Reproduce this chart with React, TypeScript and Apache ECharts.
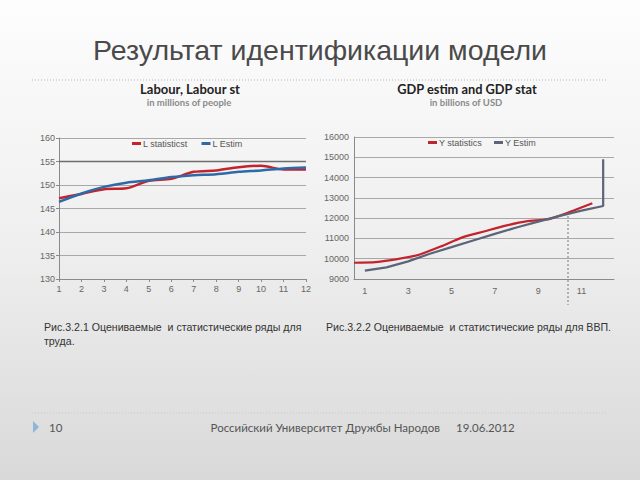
import React, { useEffect, useRef } from "react";
import * as echarts from "echarts";

// ---------- data ----------
const labourCategories = ["1", "2", "3", "4", "5", "6", "7", "8", "9", "10", "11", "12"];
const labourStat = [147.2, 148.1, 149.1, 149.3, 150.9, 151.3, 152.8, 153.1, 153.8, 154.1, 153.3, 153.3];
const labourEstim = [146.4, 148.2, 149.6, 150.5, 151.0, 151.7, 152.1, 152.3, 152.8, 153.1, 153.5, 153.7];
const labourTicks = { min: 130, max: 160, interval: 5 };

const gdpPeriods = [1, 2, 3, 4, 5, 6, 7, 8, 9, 10, 11, 12];
const gdpStat = [9800, 9835, 9980, 10195, 10600, 11050, 11340, 11630, 11850, 11950, 12320, 12730];
const gdpEstim = [9410, 9575, 9870, 10245, 10570, 10900, 11225, 11540, 11830, 12110, 12370, 12600];
const gdpEstimTail = 14900; // vertical jump at the last period
const gdpLabelPeriods = [1, 3, 5, 7, 9, 11];
const gdpTicks = { min: 9000, max: 16000, interval: 1000 };

const RED = "#c3232c";
const BLUE = "#2e6aa8";
const SLATE = "#5c6479";
const ARIAL = "Liberation Sans, Arial, sans-serif";
const GILL = "Lato, Noto Sans, sans-serif";

export default function App() {
  const ref = useRef<HTMLDivElement>(null);

  useEffect(() => {
    if (!ref.current) return;
    const chart = echarts.init(ref.current, null, { renderer: "svg" });

    const axisLabel = { fontSize: 9, color: "#666", fontFamily: ARIAL, margin: 4 };
    const axisLine = { show: true, lineStyle: { color: "#8a8a8a", width: 1 } };
    const splitLine = { show: true, lineStyle: { color: "#a8a8a8", width: 1 } };
    const plain = (v: number) => String(v);

    const txt = (x: number, y: number, text: string, fontSize: number, fontFamily: string, fill: string,
      align = "left", extra: any = {}) => ({
      type: "text", x, y,
      style: { text, fill, fontSize, fontFamily, textAlign: align, textVerticalAlign: "middle", ...extra },
    });

    const option: any = {
      animation: false,
      backgroundColor: {
        type: "linear",
        x: 0, y: 0, x2: 0, y2: 1,
        colorStops: [
          { offset: 0, color: "#fdfdfd" },
          { offset: 0.5, color: "#efefef" },
          { offset: 1, color: "#d9d9d9" },
        ],
      },
      grid: [
        { left: 59, top: 138, width: 247, height: 141, containLabel: false },
        { left: 354, top: 137, width: 260, height: 142, containLabel: false },
      ],
      legend: [
        {
          top: 134, left: 127,
          itemWidth: 9, itemHeight: 3, itemGap: 14, icon: "rect",
          textStyle: { fontSize: 9, color: "#555", fontFamily: ARIAL, padding: [0, 0, 0, -3] },
          data: ["L statisticst", "L Estim"],
        },
        {
          top: 133, left: 423,
          itemWidth: 9, itemHeight: 3, itemGap: 12, icon: "rect",
          textStyle: { fontSize: 9, color: "#555", fontFamily: ARIAL, padding: [0, 0, 0, -3] },
          data: ["Y statistics", "Y Estim"],
        },
      ],
      xAxis: [
        {
          gridIndex: 0, type: "category", data: labourCategories, boundaryGap: false,
          axisLine, axisTick: { show: true, length: 3, lineStyle: { color: "#8a8a8a" } },
          axisLabel: { ...axisLabel, margin: 5 }, splitLine: { show: false },
        },
        {
          gridIndex: 1, type: "value", min: 0.5, max: 12.5,
          axisLine: { ...axisLine, onZero: false },
          axisTick: { show: false },
          axisLabel: { ...axisLabel, margin: 7, customValues: gdpLabelPeriods, formatter: plain },
          splitLine: { show: false },
        },
      ],
      yAxis: [
        {
          gridIndex: 0, type: "value", ...labourTicks,
          axisLine, axisTick: { show: true, length: 3, lineStyle: { color: "#8a8a8a" } },
          axisLabel: { ...axisLabel, formatter: plain }, splitLine,
        },
        {
          gridIndex: 1, type: "value", ...gdpTicks,
          axisLine, axisTick: { show: false },
          axisLabel: { ...axisLabel, margin: 5, formatter: plain }, splitLine,
        },
      ],
      series: [
        {
          name: "L statisticst", type: "line", xAxisIndex: 0, yAxisIndex: 0,
          data: labourStat, smooth: 0.3, showSymbol: false, symbol: "none",
          lineStyle: { color: RED, width: 2.5 }, itemStyle: { color: RED },
          markLine: {
            silent: true, symbol: "none", label: { show: false },
            lineStyle: { color: "#6e6e6e", width: 1.3, type: "solid" },
            data: [{ yAxis: 155 }],
          },
        },
        {
          name: "L Estim", type: "line", xAxisIndex: 0, yAxisIndex: 0,
          data: labourEstim, smooth: 0.3, showSymbol: false, symbol: "none",
          lineStyle: { color: BLUE, width: 2.5 }, itemStyle: { color: BLUE },
        },
        {
          name: "Y statistics", type: "line", xAxisIndex: 1, yAxisIndex: 1,
          data: gdpPeriods.map((p, i) => [p - 0.5, gdpStat[i]]),
          smooth: 0.2, showSymbol: false, symbol: "none",
          lineStyle: { color: RED, width: 2.2 }, itemStyle: { color: RED },
        },
        {
          name: "Y Estim", type: "line", xAxisIndex: 1, yAxisIndex: 1,
          data: [
            ...gdpPeriods.map((p, i) => [p, gdpEstim[i]]),
            [gdpPeriods[gdpPeriods.length - 1], gdpEstimTail],
          ],
          showSymbol: false, symbol: "none",
          lineStyle: { color: SLATE, width: 2.2 }, itemStyle: { color: SLATE },
        },
      ],
      graphic: [
        txt(320, 50, "Результат идентификации модели", 28.5, ARIAL, "#4a4a4a", "center"),
        {
          type: "line", shape: { x1: 32, y1: 80, x2: 608, y2: 80 },
          style: { stroke: "#b5b5b5", lineWidth: 1, lineDash: [1, 2] },
        },
        txt(190, 89, "Labour, Labour st", 13, GILL, "#222", "center", { fontWeight: "bold" }),
        txt(189, 102, "in millions of people", 9.5, GILL, "#8a8a8a", "center", { fontWeight: "bold" }),
        txt(467, 89, "GDP estim and GDP stat", 12.8, GILL, "#222", "center", { fontWeight: "bold" }),
        txt(466, 102, "in billions of USD", 9.5, GILL, "#8a8a8a", "center", { fontWeight: "bold" }),
        {
          type: "line", shape: { x1: 568, y1: 216, x2: 568, y2: 305 },
          style: { stroke: "#7a7a7a", lineWidth: 1, lineDash: [2, 2] },
        },
        txt(44, 327, "Рис.3.2.1 Оцениваемые  и статистические ряды для", 10.6, ARIAL, "#333"),
        txt(44, 341, "труда.", 10.6, ARIAL, "#333"),
        txt(326, 327, "Рис.3.2.2 Оцениваемые  и статистические ряды для ВВП.", 10.6, ARIAL, "#333"),
        {
          type: "line", shape: { x1: 32, y1: 413, x2: 608, y2: 413 },
          style: { stroke: "#c8c8c8", lineWidth: 1, lineDash: [1, 2] },
        },
        {
          type: "polygon", shape: { points: [[33, 421], [39, 427], [33, 433]] },
          style: { fill: "#8fb6d8" },
        },
        txt(49, 427, "10", 11.5, GILL, "#555"),
        txt(440, 427, "Российский Университет Дружбы Народов", 11.5, GILL, "#555", "right"),
        txt(456, 427, "19.06.2012", 11.5, GILL, "#555"),
      ],
    };

    chart.setOption(option);
    return () => chart.dispose();
  }, []);

  return (
    <div
      ref={ref}
      style={{ position: "fixed", left: 0, top: 0, width: 640, height: 480 }}
    />
  );
}
